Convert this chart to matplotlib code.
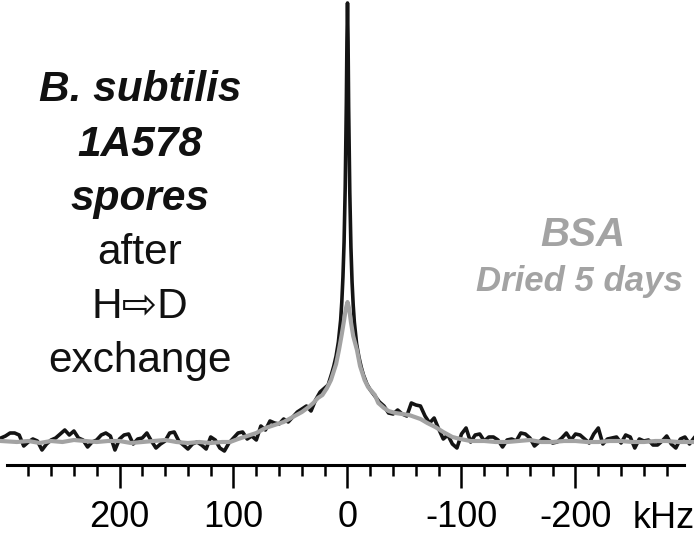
import matplotlib
matplotlib.use("Agg")
import matplotlib.pyplot as plt
import numpy as np

# frequency (kHz) and intensity (arbitrary units)
black_khz = [
    304, 300, 296, 292, 288, 284, 280, 276, 272, 268, 264, 260, 256, 252, 248, 244,
    240, 236, 232, 228, 224, 220, 216, 212, 208, 204, 200, 196, 192, 188, 184, 180,
    176, 172, 168, 164, 160, 156, 152, 148, 144, 140, 136, 132, 128, 124, 120, 116,
    112, 108, 104, 100, 96, 92, 88, 84, 80, 76, 72, 68, 64, 60, 56, 52, 48, 44, 40,
    36, 32, 28, 24, 20, 17, 14, 12, 10, 8, 6, 5, 4, 3, 2, 1, 0.5, 0,
    -0.5, -1, -2, -3, -4, -5, -6, -8, -10, -12, -14, -17, -20, -24, -28,
    -32, -36, -40, -44, -48, -52, -56, -60, -64, -68, -72, -76, -80, -84, -88, -92,
    -96, -100, -104, -108, -112, -116, -120, -124, -128, -132, -136, -140, -144,
    -148, -152, -156, -160, -164, -168, -172, -176, -180, -184, -188, -192, -196,
    -200, -204, -208, -212, -216, -220, -224, -228, -232, -236, -240, -244, -248,
    -252, -256, -260, -264, -268, -272, -276, -280, -284, -288, -292, -296, -300, -304,
]
black_int = [
    4, 6, 9, 9, 7, -4, 0, 3, 1, -8, -2, 2, 4, 8, 12, 7,
    11, 4, 2, -5, 0, 2, 7, 9, 6, -8, 3, 7, 8, -2, 3, 4,
    9, 1, -6, -2, 1, 9, 10, 1, -3, -7, -2, 0, -3, -7, 5, 2,
    -6, -9, -1, 4, 9, 10, 3, 6, 2, 16, 12, 21, 19, 18, 23, 20, 25, 30, 33,
    36, 31, 42, 50, 54, 57, 68, 76, 86, 100, 122, 140, 165, 200, 255, 340, 400, 439,
    400, 335, 250, 195, 160, 137, 120, 98, 85, 75, 67, 58, 52, 46, 40,
    36, 29, 28, 32, 28, 26, 39, 37, 36, 26, 19, 24, 13, 3, 7, -2,
    -6, 8, 14, 0, 7, 8, 1, 5, 5, 2, -5, 2, 3,
    1, 9, 8, 4, -4, 0, 4, 2, -1, 0, 4, 9, 2,
    8, 7, 3, -1, 8, 14, -2, 3, 4, 5, -1, 7, 5,
    -6, 3, 1, 2, -3, -3, 1, 6, -2, -6, 3, 5, -2, 4,
]

gray_khz = [
    304, 290, 280, 270, 260, 250, 240, 230, 220, 210, 200, 190, 180, 170, 160, 150,
    140, 130, 120, 110, 103, 96, 88, 80, 72, 64, 56, 48, 40, 34, 30, 26, 22, 18,
    14.5, 10, 7.5, 5, 3, 1.5, 0, -1.5, -3, -5, -8.3, -11, -15, -18, -24, -27, -32,
    -36, -42, -48, -54, -59, -64, -70, -77, -84, -92, -99, -108, -120, -130, -140,
    -150, -160, -170, -180, -190, -200, -210, -220, -230, -240, -250, -260, -270,
    -280, -290, -304,
]
gray_int = [
    1, 0, 1, -1, 1, 0, 2, 1, 0, 1, 1, -1, 0, 1, 2, 0,
    -1, 0, -1, 0, 0, 3, 6, 9, 14, 17, 20, 25, 30, 35, 39, 44, 47, 54,
    62, 78, 92, 108, 122, 133, 140, 133, 120, 106, 92, 76, 62, 55, 47, 39, 34,
    31, 29, 28, 27, 25, 23, 19, 15, 10, 5, 3, 1, 1, 0, 0,
    1, 2, 0, 0, 1, 1, 0, 0, 1, 1, 0, 0, 1,
    1, 0, 0,
]

major_ticks = [200, 100, 0, -100, -200]
major_labels = ["200", "100", "0", "-100", "-200"]
minor_ticks = list(range(280, -281, -20))

W, H = 694, 535
fig = plt.figure(figsize=(W / 100, H / 100), dpi=100)
ax = fig.add_axes([0, 0, 1, 1])

ax.plot(black_khz, black_int, color="#141414", lw=2.6, solid_joinstyle="round", zorder=2)
ax.plot(gray_khz, gray_int, color="#a3a3a3", lw=3.0, solid_joinstyle="round", zorder=3)

# 1 data unit = 1 pixel vertically; baseline sits 442 px from the top
ax.set_ylim(442 - H, 442)
ax.set_xlim(347.5 / 1.14, -(W - 347.5) / 1.14)

for side in ["top", "right", "left"]:
    ax.spines[side].set_visible(False)
ax.spines["bottom"].set_position(("data", -23))
ax.spines["bottom"].set_bounds(299, -295)
ax.spines["bottom"].set_linewidth(2.2)
ax.set_yticks([])
ax.set_xticks(major_ticks)
ax.set_xticklabels(major_labels)
ax.set_xticks(minor_ticks, minor=True)
ax.tick_params(axis="x", which="major", direction="out", length=16.5, width=1.8,
               pad=9, labelsize=26)
ax.tick_params(axis="x", which="minor", direction="out", length=8, width=1.8)
for lab in ax.get_xticklabels():
    lab.set_fontfamily("Liberation Sans")

fig.text(664 / W, 1 - 518 / H, "kHz", fontsize=26, family="Liberation Sans",
         ha="center", va="center")

left_lines = [
    ("B. subtilis", "bold", "italic", 101),
    ("1A578", "bold", "italic", 156),
    ("spores", "bold", "italic", 210),
    ("after", "normal", "normal", 264),
    ("H\u21e8D", "normal", "normal", 318),
    ("exchange", "normal", "normal", 372),
]
for txt, weight, style, py in left_lines:
    fig.text(140 / W, 1 - py / H, txt, fontsize=30.5, fontweight=weight, fontstyle=style,
             family=["Liberation Sans", "DejaVu Sans"], ha="center", va="baseline",
             color="#111111")

fig.text(583 / W, 1 - 246 / H, "BSA", fontsize=29, fontweight="bold", fontstyle="italic",
         family="Liberation Sans", ha="center", va="baseline", color="#a3a3a3")
fig.text(579 / W, 1 - 291 / H, "Dried 5 days", fontsize=25, fontweight="bold",
         fontstyle="italic", family="Liberation Sans", ha="center", va="baseline",
         color="#a3a3a3")

fig.savefig("out.png", dpi=100)
